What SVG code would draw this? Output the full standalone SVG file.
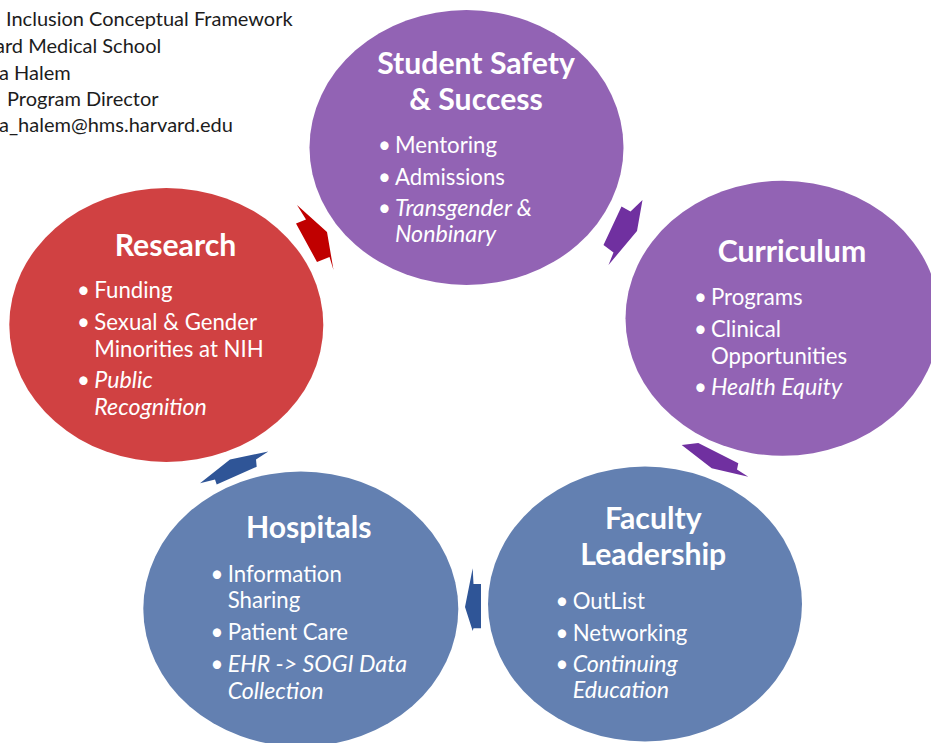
<svg xmlns="http://www.w3.org/2000/svg" width="931" height="743" viewBox="0 0 931 743">
  <style>
    .hdr { font-family: Lato, "Liberation Sans", sans-serif; font-size: 20px; fill: #1c1c1c; }
    .ttl { font-family: Lato, "Liberation Sans", sans-serif; font-size: 30.2px; font-weight: bold; fill: #ffffff; text-anchor: middle; }
    .itm { font-family: Lato, "Liberation Sans", sans-serif; font-size: 22.2px; fill: #ffffff; }
    .em { font-style: italic; font-size: 23.2px; }
    .purple { fill: #9263B4; }
    .red { fill: #D04142; }
    .blue { fill: #6380B1; }
    .arr-red { fill: #C00000; }
    .arr-purple { fill: #7030A0; }
    .arr-blue { fill: #2F5597; }
  </style>

  <rect width="931" height="743" fill="#ffffff"/>

  <!-- header lines, left edge cut by the page -->
  <g id="header">
    <text class="hdr" x="6" y="26">Inclusion Conceptual Framework</text>
    <text class="hdr" x="-5" y="53">ard Medical School</text>
    <text class="hdr" x="-1" y="79.5">a Halem</text>
    <text class="hdr" x="7" y="106">Program Director</text>
    <text class="hdr" x="-1" y="132">a_halem@hms.harvard.edu</text>
  </g>

  <!-- cycle arrows between the circles -->
  <g id="connectors">
    <polygon class="arr-red" points="297,205 327,232 333.5,270 329.5,257 317,262 296,223.5 306,219.5"/>
    <polygon class="arr-purple" points="642.5,200 637,231 608.5,265 613.5,252.5 603.5,245 621.5,206.5 630.5,211.5"/>
    <polygon class="arr-purple" points="681.7,445 698.3,443 738.3,463.3 737,469.5 748.3,476.7 711.7,468.3"/>
    <polygon class="arr-blue" points="472.7,568.3 473.5,584 481,584 481,628.3 473.5,628.3 472.7,631 465,607"/>
    <polygon class="arr-blue" points="200,483.3 230,459.5 268.3,451.5 256,459.5 256.7,466.7 216.7,484.5 215,479.5"/>
  </g>

  <g id="student-safety">
    <ellipse class="purple" cx="466.5" cy="147.5" rx="157" ry="137.5"/>
    <text class="ttl" x="476" y="74">Student Safety</text>
    <text class="ttl" x="476" y="110">&amp; Success</text>
    <text class="itm" x="378" y="153">•</text>
    <text class="itm" x="395" y="153">Mentoring</text>
    <text class="itm" x="378" y="184.5">•</text>
    <text class="itm" x="395" y="184.5">Admissions</text>
    <text class="itm" x="378" y="216">•</text>
    <text class="itm em" x="395" y="216">Transgender &amp;</text>
    <text class="itm em" x="395" y="242">Nonbinary</text>
  </g>

  <g id="curriculum">
    <ellipse class="purple" cx="782.5" cy="318.3" rx="157" ry="137.5"/>
    <text class="ttl" x="792" y="261.5">Curriculum</text>
    <text class="itm" x="694" y="305">•</text>
    <text class="itm" x="711" y="305">Programs</text>
    <text class="itm" x="694" y="336.5">•</text>
    <text class="itm" x="711" y="336.5">Clinical</text>
    <text class="itm" x="711" y="363.5">Opportunities</text>
    <text class="itm" x="694" y="395">•</text>
    <text class="itm em" x="711" y="395">Health Equity</text>
  </g>

  <g id="faculty-leadership">
    <ellipse class="blue" cx="645" cy="604" rx="157" ry="137.5"/>
    <text class="ttl" x="653.3" y="529.3">Faculty</text>
    <text class="ttl" x="653.3" y="565">Leadership</text>
    <text class="itm" x="555.5" y="609">•</text>
    <text class="itm" x="572.7" y="609">OutList</text>
    <text class="itm" x="555.5" y="640.7">•</text>
    <text class="itm" x="572.7" y="640.7">Networking</text>
    <text class="itm" x="555.5" y="671.7">•</text>
    <text class="itm em" x="572.7" y="671.7">Continuing</text>
    <text class="itm em" x="572.7" y="698.3">Education</text>
  </g>

  <g id="hospitals">
    <ellipse class="blue" cx="300.8" cy="609" rx="157.5" ry="137.5"/>
    <text class="ttl" x="308.7" y="538.3">Hospitals</text>
    <text class="itm" x="210.5" y="581.7">•</text>
    <text class="itm" x="227.7" y="581.7">Information</text>
    <text class="itm" x="227.7" y="608.3">Sharing</text>
    <text class="itm" x="210.5" y="640">•</text>
    <text class="itm" x="227.7" y="640">Patient Care</text>
    <text class="itm" x="210.5" y="672.3">•</text>
    <text class="itm em" x="227.7" y="672.3">EHR -&gt; SOGI Data</text>
    <text class="itm em" x="227.7" y="699.3">Collection</text>
  </g>

  <g id="research">
    <ellipse class="red" cx="166.3" cy="325" rx="157" ry="137"/>
    <text class="ttl" x="175.5" y="256">Research</text>
    <text class="itm" x="77" y="298.3">•</text>
    <text class="itm" x="94.3" y="298.3">Funding</text>
    <text class="itm" x="77" y="330">•</text>
    <text class="itm" x="94.3" y="330">Sexual &amp; Gender</text>
    <text class="itm" x="94.3" y="356.7">Minorities at NIH</text>
    <text class="itm" x="77" y="388.3">•</text>
    <text class="itm em" x="94.3" y="388.3">Public</text>
    <text class="itm em" x="94.3" y="415">Recognition</text>
  </g>
</svg>
